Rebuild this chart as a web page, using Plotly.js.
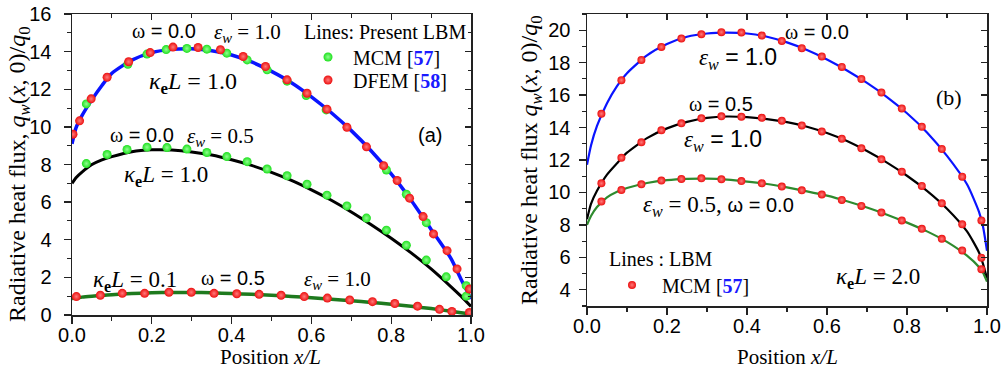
<!DOCTYPE html>
<html>
<head>
<meta charset="utf-8">
<script src="https://cdn.plot.ly/plotly-3.0.1.min.js"></script>
<style>html,body{margin:0;padding:0;background:#fff;}#chart{width:1004px;height:373px;}</style>
</head>
<body>
<div id="chart"></div>
<script>
// ---------- Panel (a) data ----------
const lineAx = [0, 0.01, 0.025, 0.05, 0.075, 0.1, 0.15, 0.2, 0.25, 0.3, 0.35, 0.4, 0.45, 0.5, 0.55, 0.6, 0.65, 0.7, 0.75, 0.8, 0.85, 0.9, 0.95, 0.975, 1.0];
const lbmA_w0_e1 = [9.1, 9.95, 10.6, 11.45, 12.2, 12.85, 13.55, 13.95, 14.12, 14.15, 14.05, 13.82, 13.45, 12.95, 12.35, 11.6, 10.75, 9.8, 8.72, 7.5, 6.1, 4.55, 3.0, 1.9, 0.85];
const lbmA_w0_e05 = [7.0, 7.3, 7.6, 8.0, 8.25, 8.42, 8.68, 8.78, 8.77, 8.67, 8.5, 8.25, 7.95, 7.58, 7.15, 6.65, 6.1, 5.48, 4.8, 4.08, 3.3, 2.45, 1.5, 1.0, 0.45];
const lbmA_k01 = [0.88, 0.9, 0.95, 1.0, 1.04, 1.08, 1.14, 1.18, 1.2, 1.2, 1.18, 1.14, 1.1, 1.05, 0.99, 0.92, 0.84, 0.76, 0.67, 0.57, 0.46, 0.34, 0.2, 0.12, 0.05];

const dfemA1_x = [0.0025, 0.019, 0.048, 0.088, 0.142, 0.196, 0.253, 0.316, 0.372, 0.429, 0.485, 0.539, 0.589, 0.639, 0.689, 0.738, 0.781, 0.815, 0.846, 0.880, 0.906, 0.940, 0.965, 0.996];
const dfemA1_y = [9.61, 10.32, 11.49, 12.64, 13.46, 13.95, 14.24, 14.22, 14.10, 13.74, 13.21, 12.50, 11.79, 10.94, 9.98, 8.94, 7.94, 7.15, 6.21, 5.23, 4.31, 3.42, 2.45, 1.38];
const mcmA1_x = [0.036, 0.140, 0.188, 0.236, 0.288, 0.338, 0.388, 0.439, 0.489, 0.539, 0.587, 0.637, 0.788, 0.838, 0.888, 0.988];
const mcmA1_y = [11.22, 13.33, 13.87, 14.11, 14.17, 14.13, 13.92, 13.56, 13.03, 12.43, 11.67, 10.90, 7.71, 6.42, 4.91, 1.56];
const mcmA2_x = [0.036, 0.088, 0.138, 0.188, 0.238, 0.288, 0.338, 0.388, 0.439, 0.489, 0.539, 0.589, 0.639, 0.689, 0.738, 0.788, 0.838, 0.888, 0.938, 0.988];
const mcmA2_y = [8.05, 8.53, 8.80, 8.92, 8.90, 8.82, 8.64, 8.42, 8.15, 7.76, 7.40, 6.95, 6.37, 5.80, 5.15, 4.51, 3.71, 2.92, 2.03, 1.00];
const dfemA3_x = [0.011, 0.071, 0.126, 0.182, 0.243, 0.299, 0.356, 0.413, 0.469, 0.524, 0.582, 0.640, 0.696, 0.753, 0.809, 0.866, 0.921, 0.952, 0.996];
const dfemA3_y = [0.98, 1.05, 1.15, 1.15, 1.21, 1.21, 1.15, 1.13, 1.10, 1.05, 0.98, 0.90, 0.80, 0.71, 0.61, 0.47, 0.30, 0.19, 0.13];

// ---------- Panel (b) data ----------
const lineBx = [0, 0.01, 0.025, 0.05, 0.075, 0.1, 0.15, 0.2, 0.25, 0.3, 0.35, 0.4, 0.45, 0.5, 0.55, 0.6, 0.65, 0.7, 0.75, 0.8, 0.85, 0.9, 0.95, 0.98, 0.99, 1.0];
const lbmB_w0_e1 = [11.7, 12.9, 14.1, 15.5, 16.55, 17.35, 18.45, 19.15, 19.6, 19.8, 19.85, 19.8, 19.6, 19.25, 18.78, 18.2, 17.52, 16.75, 15.88, 14.88, 13.7, 12.25, 10.5, 8.8, 7.9, 6.4];
const lbmB_w05_e1 = [8.35, 9.3, 10.1, 11.1, 11.8, 12.45, 13.35, 13.95, 14.35, 14.6, 14.68, 14.64, 14.52, 14.33, 14.05, 13.66, 13.17, 12.55, 11.84, 11.03, 10.1, 9.0, 7.6, 6.3, 5.6, 4.7];
const lbmB_w0_e05 = [8.0, 8.55, 9.1, 9.7, 10.05, 10.27, 10.58, 10.76, 10.84, 10.85, 10.79, 10.67, 10.52, 10.31, 10.07, 9.8, 9.46, 9.07, 8.63, 8.14, 7.6, 6.95, 6.1, 5.4, 5.05, 4.5];

const mcmBx = [0.036, 0.086, 0.136, 0.186, 0.236, 0.286, 0.336, 0.386, 0.437, 0.487, 0.537, 0.587, 0.637, 0.686, 0.736, 0.787, 0.837, 0.887, 0.938, 0.986];
const mcmB1_y = [14.85, 16.92, 18.17, 18.97, 19.49, 19.75, 19.88, 19.86, 19.67, 19.34, 18.89, 18.38, 17.74, 17.00, 16.16, 15.18, 14.05, 12.68, 10.97, 8.27];
const mcmB2_y = [10.56, 12.14, 13.09, 13.83, 14.26, 14.58, 14.69, 14.67, 14.60, 14.42, 14.13, 13.76, 13.31, 12.72, 12.04, 11.28, 10.40, 9.33, 8.04, 5.97];
const mcmB3_y = [9.44, 10.15, 10.50, 10.73, 10.83, 10.87, 10.81, 10.70, 10.56, 10.36, 10.13, 9.87, 9.54, 9.17, 8.76, 8.27, 7.76, 7.14, 6.42, 5.27];

// ---------- styles ----------
const SERIF = 'Liberation Serif';
const SANS = 'Liberation Sans';
const BLUE = '#0a14ff', GREEN_A = '#1e7a1e', GREEN_B = '#2e8b2e';
const redMarkA = {color: '#ec0f0f', size: 9, gradient: {type: 'radial', color: '#ff7a7a'}, line: {width: 0}};
const greenMarkA = {color: '#1ee01e', size: 9, gradient: {type: 'radial', color: '#90ff90'}, line: {width: 0}};
const redMarkB = {color: '#ec0f0f', size: 8, gradient: {type: 'radial', color: '#ff7a7a'}, line: {width: 0}};

function ln(x, y, color, width, xa, ya) {
  return {x: x, y: y, mode: 'lines', line: {color: color, width: width, shape: 'spline', smoothing: 0.6},
          xaxis: xa, yaxis: ya, showlegend: false, hoverinfo: 'skip'};
}
function pts(x, y, marker, xa, ya, name, show, legend, group) {
  return {x: x, y: y, mode: 'markers', marker: marker, xaxis: xa, yaxis: ya, name: name,
          showlegend: show, legend: legend, legendgroup: group};
}

const ref57 = "<b><span style='color:#1a1aff'>57</span></b>";
const ref58 = "<b><span style='color:#1a1aff'>58</span></b>";

const traces = [
  ln(lineAx, lbmA_w0_e1, BLUE, 3.5, 'x', 'y'),
  ln(lineAx, lbmA_w0_e05, '#000000', 3, 'x', 'y'),
  ln(lineAx, lbmA_k01, GREEN_A, 3.5, 'x', 'y'),
  pts(mcmA1_x, mcmA1_y, greenMarkA, 'x', 'y', 'MCM [' + ref57 + ']', true, 'legend', 'mcmA'),
  pts(mcmA2_x, mcmA2_y, greenMarkA, 'x', 'y', 'MCM', false, 'legend', 'mcmA'),
  pts(dfemA1_x, dfemA1_y, redMarkA, 'x', 'y', 'DFEM [' + ref58 + ']', true, 'legend3', 'dfemA'),
  pts(dfemA3_x, dfemA3_y, redMarkA, 'x', 'y', 'DFEM', false, 'legend3', 'dfemA'),
  ln(lineBx, lbmB_w0_e1, BLUE, 2.2, 'x2', 'y2'),
  ln(lineBx, lbmB_w05_e1, '#000000', 2.2, 'x2', 'y2'),
  ln(lineBx, lbmB_w0_e05, GREEN_B, 2.2, 'x2', 'y2'),
  pts(mcmBx, mcmB1_y, redMarkB, 'x2', 'y2', 'MCM [' + ref57 + ']', true, 'legend2', 'mcmB'),
  pts(mcmBx, mcmB2_y, redMarkB, 'x2', 'y2', 'MCM', false, 'legend2', 'mcmB'),
  pts(mcmBx, mcmB3_y, redMarkB, 'x2', 'y2', 'MCM', false, 'legend2', 'mcmB'),
  {x: [], y: [], xaxis: 'x3', yaxis: 'y3', showlegend: false, mode: 'markers'},
  {x: [], y: [], xaxis: 'x4', yaxis: 'y4', showlegend: false, mode: 'markers'}
];

const W = 1004, H = 373;
const dxA = [72 / W, 471 / W], dxB = [587 / W, 987 / W];
const dyA = [1 - 315 / H, 1 - 14 / H], dyB = [1 - 306 / H, 1 - 14 / H];

const tickFont = {family: SANS, size: 20, color: '#000'};
function mainX(domain, anchor) {
  return {domain: domain, anchor: anchor, range: [0, 1], dtick: 0.2, tick0: 0, tickformat: '.1f',
          ticks: 'outside', ticklen: 7, tickwidth: 1.3, tickcolor: '#222',
          minor: {dtick: 0.1, ticks: 'outside', ticklen: 4, tickwidth: 1.1, tickcolor: '#222', showgrid: false},
          showline: true, linewidth: 1.5, linecolor: '#222', showgrid: false, zeroline: false,
          tickfont: tickFont, fixedrange: true, ticklabelstandoff: -6};
}
function mainY(domain, anchor, range, standoff) {
  return {domain: domain, anchor: anchor, range: range, dtick: 2, tick0: 0,
          ticks: 'outside', ticklen: 7, tickwidth: 1.3, tickcolor: '#222',
          minor: {dtick: 1, ticks: 'outside', ticklen: 4, tickwidth: 1.1, tickcolor: '#222', showgrid: false},
          showline: true, linewidth: 1.5, linecolor: '#222', showgrid: false, zeroline: false,
          tickfont: tickFont, fixedrange: true, ticklabelstandoff: standoff};
}
function mirX(over, anchor) {
  return {overlaying: over, anchor: anchor, side: 'top', range: [0, 1], dtick: 0.2, tick0: 0,
          ticks: 'inside', ticklen: 6, tickwidth: 1.3, tickcolor: '#222',
          minor: {dtick: 0.1, ticks: 'inside', ticklen: 3.5, tickwidth: 1.1, tickcolor: '#222', showgrid: false},
          showline: true, linewidth: 1.5, linecolor: '#222', showgrid: false, zeroline: false,
          showticklabels: false, fixedrange: true};
}
function mirY(over, anchor, range) {
  return {overlaying: over, anchor: anchor, side: 'right', range: range, dtick: 2, tick0: 0,
          ticks: 'inside', ticklen: 6, tickwidth: 1.3, tickcolor: '#222',
          minor: {dtick: 1, ticks: 'inside', ticklen: 3.5, tickwidth: 1.1, tickcolor: '#222', showgrid: false},
          showline: true, linewidth: 1.5, linecolor: '#222', showgrid: false, zeroline: false,
          showticklabels: false, fixedrange: true};
}

function ann(text, x, y, size, family, extra) {
  return Object.assign({text: text, x: x / W, y: 1 - y / H, xref: 'paper', yref: 'paper',
          xanchor: 'left', yanchor: 'middle', showarrow: false,
          font: {family: family || SERIF, size: size, color: '#000'}}, extra || {});
}
const om = (v) => "ω<span style='font-family:Liberation Sans'> = " + v + "</span>";
const epsSerif = (v) => "<i>ε</i><sub><i>w</i></sub> = " + v;
const epsSans = (v) => "<i>ε</i><sub><i>w</i></sub><span style='font-family:Liberation Sans'> = " + v + "</span>";
const kap = (v) => "<i>κ</i><sub><b>e</b></sub><i>L</i> = " + v;

const annotations = [
  // panel (a)
  ann(om('0.0'), 130, 31, 20),
  ann(epsSerif('1.0'), 212, 33, 21),
  ann('Lines: Present LBM', 302, 32, 20),
  ann(kap('1.0'), 147, 83, 24),
  ann('(a)', 416, 135, 20, SANS),
  ann(om('0.0'), 108, 135, 20),
  ann(epsSerif('0.5'), 185, 137, 21),
  ann(kap('1.0'), 122, 176, 23),
  ann(kap('0.1'), 91, 281, 23),
  ann(om('0.5'), 199, 278, 20),
  ann(epsSerif('1.0'), 302, 280, 21),
  // panel (b)
  ann(om('0.0'), 783, 32, 20),
  ann(epsSans('1.0'), 697, 58, 23),
  ann('(b)', 934, 98, 22),
  ann(om('0.5'), 687, 104, 20),
  ann(epsSans('1.0'), 682, 140, 23),
  ann(epsSerif('0.5') + ", <span style='font-family:Liberation Sans;font-size:20px'>ω = 0.0</span>", 641, 206, 23),
  ann(kap('2.0'), 834, 278, 23),
  ann('Lines : LBM', 607, 259, 20),
  // axis titles
  ann("Radiative heat flux, <i>q</i><sub><i>w</i></sub>(<i>x</i>, 0)/<i>q</i><sub>0</sub>", 19, 174, 24, SERIF,
      {xanchor: 'center', textangle: -90}),
  ann("Radiative heat flux <i>q</i><sub><i>w</i></sub>(<i>x</i>, 0)/<i>q</i><sub>0</sub>", 531, 160, 24, SERIF,
      {xanchor: 'center', textangle: -90}),
  ann("Position <i>x/L</i>", 270, 357, 21, SERIF, {xanchor: 'center'}),
  ann("Position <i>x/L</i>", 787, 357, 21, SERIF, {xanchor: 'center'})
];

const legFont = {family: SERIF, size: 20, color: '#000'};
const layout = {
  width: W, height: H,
  margin: {l: 0, r: 0, t: 0, b: 0},
  paper_bgcolor: '#fff', plot_bgcolor: 'rgba(0,0,0,0)',
  font: {family: SERIF, size: 19, color: '#000'},
  xaxis: mainX(dxA, 'y'),
  yaxis: mainY(dyA, 'x', [0, 16], 8),
  xaxis2: mainX(dxB, 'y2'),
  yaxis2: mainY(dyB, 'x2', [3, 21], 4),
  xaxis3: mirX('x', 'y'),
  yaxis3: mirY('y', 'x', [0, 16]),
  xaxis4: mirX('x2', 'y2'),
  yaxis4: mirY('y2', 'x2', [3, 21]),
  legend: {x: 303 / W, y: 1 - 57 / H, xanchor: 'left', yanchor: 'middle', bgcolor: 'rgba(0,0,0,0)',
           font: legFont, itemwidth: 40, tracegroupgap: 0, borderwidth: 0},
  legend3: {x: 303 / W, y: 1 - 80 / H, xanchor: 'left', yanchor: 'middle', bgcolor: 'rgba(0,0,0,0)',
           font: legFont, itemwidth: 40, tracegroupgap: 0, borderwidth: 0},
  legend2: {x: 602 / W, y: 1 - 285 / H, xanchor: 'left', yanchor: 'middle', bgcolor: 'rgba(0,0,0,0)',
           font: legFont, itemwidth: 50, tracegroupgap: 0, borderwidth: 0},
  annotations: annotations,
  showlegend: true
};

Plotly.newPlot('chart', traces, layout, {displayModeBar: false, staticPlot: true});
</script>
</body>
</html>
